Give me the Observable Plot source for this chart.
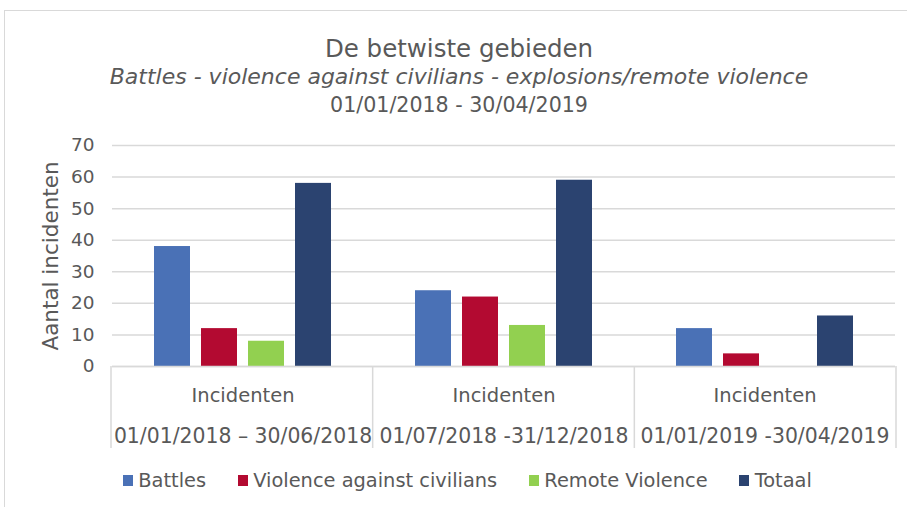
<!DOCTYPE html>
<html>
<head>
<meta charset="utf-8">
<script src="https://cdn.jsdelivr.net/npm/d3@7"></script>
<script src="https://cdn.jsdelivr.net/npm/@observablehq/plot@0.6"></script>
<style>
  html, body { margin: 0; padding: 0; background: #fff; width: 907px; height: 507px; overflow: hidden; }
  #frame { position: absolute; left: 4px; top: 10px; width: 960px; height: 560px;
           border-left: 1.5px solid #d9d9d9; border-top: 1.5px solid #d9d9d9; }
  #chart { position: absolute; left: 0; top: 0; }
  .t { position: absolute; left: 0; width: 918px; text-align: center; color: #595959;
       font-family: "DejaVu Sans", sans-serif; white-space: nowrap; }
  #title { top: 37px; font-size: 24.5px; line-height: 24px; }
  #sub { top: 66.4px; font-size: 22px; line-height: 22px; font-style: italic; }
  #date { top: 94.6px; font-size: 20.6px; line-height: 20px; }
  #legend { position: absolute; left: 122.7px; top: 471.3px; display: flex; gap: 31.5px;
            font-family: "DejaVu Sans", sans-serif;
            font-size: 19.4px; line-height: 20px; color: #595959; white-space: nowrap; }
  .item { display: flex; align-items: flex-start; }
  .sw { width: 10px; height: 10.5px; margin-top: 4px; margin-right: 5.6px; }
</style>
</head>
<body>
<div id="frame"></div>
<div id="chart"></div>
<div class="t" id="title"></div>
<div class="t" id="sub"></div>
<div class="t" id="date"></div>
<div id="legend"></div>
<script>
// ---- data ----
const titleText = "De betwiste gebieden";
const subtitleText = "Battles - violence against civilians - explosions/remote violence";
const dateText = "01/01/2018 - 30/04/2019";
const categories = ["01/01/2018 – 30/06/2018", "01/07/2018 -31/12/2018", "01/01/2019 -30/04/2019"];
const categoryTitle = "Incidenten";
const series = ["Battles", "Violence against civilians", "Remote Violence", "Totaal"];
const battles = [38, 24, 12];
const violence = [12, 22, 4];
const remote = [8, 13, 0];
const totaal = [58, 59, 16];
const colors = ["#4a71b6", "#b30a31", "#92d050", "#2b4370"];
const yTicks = [0, 10, 20, 30, 40, 50, 60, 70];
const yLabel = "Aantal incidenten";

const seriesValues = [battles, violence, remote, totaal];
const data = categories.flatMap((c, i) => series.map((s, j) => ({cat: c, series: s, value: seriesValues[j][i]})));

document.getElementById("title").textContent = titleText;
document.getElementById("sub").textContent = subtitleText;
document.getElementById("date").textContent = dateText;

const font = '"DejaVu Sans", sans-serif';
const grey = "#d9d9d9";
const ink = "#595959";

const chart = Plot.plot({
  width: 907,
  height: 507,
  marginLeft: 111,
  marginRight: 11,
  marginTop: 145,
  marginBottom: 141,
  style: {fontFamily: font, color: ink, background: "transparent"},
  fx: {domain: categories, padding: 0, axis: null, label: null},
  x: {domain: series, paddingInner: 0.224, paddingOuter: 0.857, axis: null, label: null},
  y: {domain: [0, 70], label: null},
  color: {domain: series, range: colors},
  marks: [
    Plot.gridY(yTicks, {stroke: grey, strokeOpacity: 1, strokeWidth: 1.5}),
    Plot.axisY(yTicks, {tickSize: 0, tickPadding: 18, fontSize: 18.5, label: null, fill: ink}),
    Plot.axisY([], {tickSize: 0, label: yLabel, labelAnchor: "center", labelOffset: 70, fontSize: 21.5, fill: ink, labelArrow: "none"}),
    Plot.barY(data, {fx: "cat", x: "series", y: "value", fill: "series"}),
    Plot.ruleY([0], {stroke: grey, strokeWidth: 1.5}),
    Plot.text(categories, {fx: d => d, text: () => categoryTitle, frameAnchor: "bottom", dy: 35.5, fontSize: 19.5, fill: ink}),
    Plot.text(categories, {fx: d => d, text: d => d, frameAnchor: "bottom", dy: 76, fontSize: 20.4, fill: ink})
  ]
});
document.getElementById("chart").appendChild(chart);

// category separators from the fx scale
const fx = chart.scale("fx");
const ys = chart.scale("y");
const band = d3.scaleBand().domain(fx.domain).range(fx.range)
  .paddingInner(fx.paddingInner ?? 0).paddingOuter(fx.paddingOuter ?? 0).align(fx.align ?? 0.5);
const y0 = ys.apply ? ys.apply(0) : d3.scaleLinear().domain(ys.domain).range(ys.range)(0);
const edges = fx.domain.map(d => band(d)).concat([band(fx.domain[fx.domain.length - 1]) + band.bandwidth()]);
d3.select(chart).append("g").selectAll("line").data(edges).join("line")
  .attr("x1", d => d).attr("x2", d => d).attr("y1", y0).attr("y2", y0 + 82)
  .attr("stroke", grey).attr("stroke-width", 1.5);

// legend
const legend = d3.select("#legend");
const items = legend.selectAll(".item").data(series).join("div").attr("class", "item");
items.append("div").attr("class", "sw").style("background", (d, i) => colors[i]);
items.append("span").text(d => d);
</script>
</body>
</html>
